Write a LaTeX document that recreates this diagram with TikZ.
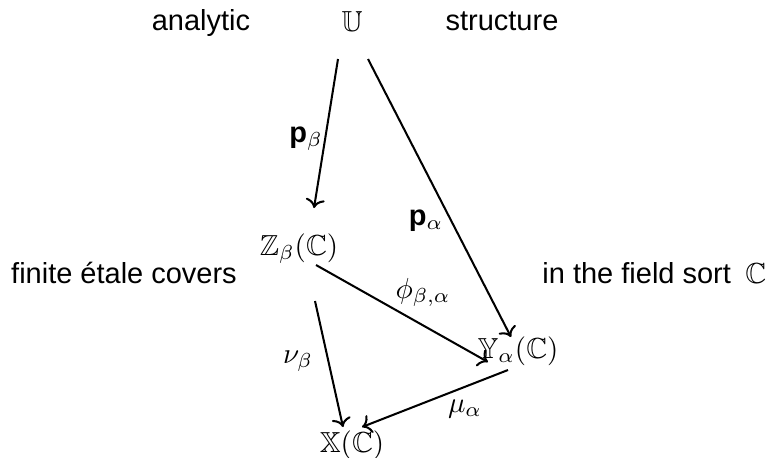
\documentclass[tikz,border=0pt]{standalone}
\usepackage{amsmath,amssymb}
\usepackage{fontspec}
\setmainfont{Liberation Sans}
\usetikzlibrary{arrows.meta}

\begin{document}
\begin{tikzpicture}[x=0.345pt, y=-0.345pt,
    obj/.style={inner sep=0pt, anchor=base},
    mapto/.style={->, line width=0.7pt}]
    \useasboundingbox (0,0) rectangle (770,457);

    % Top row: the analytic structure
    \node[obj] (analytic) at (201,30) {analytic};
    \node[obj] (U) at (352,31) {$\mathbb{U}$};
    \node[obj] (structure) at (502,30) {structure};

    % Middle row: covers and the field sort
    \node[obj] (covers) at (124,283) {finite étale covers};
    \node[obj, anchor=base east] (field) at (767,283) {in the field sort\enspace$\mathbb{C}$};
    \node[obj] (Z) at (299,255) {$\mathbb{Z}_\beta(\mathbb{C})$};
    \node[obj] (Y) at (518,358) {$\mathbb{Y}_\alpha(\mathbb{C})$};

    % Bottom
    \node[obj] (X) at (352,452) {$\mathbb{X}(\mathbb{C})$};

    % Maps
    \draw[mapto] ([shift={(-14,28)}]U.base) -- ([shift={(15,-47)}]Z.base);
    \draw[mapto] ([shift={(16,28)}]U.base) -- ([shift={(-7,-21)}]Y.base);
    \draw[mapto] ([shift={(17,10)}]Z.base) -- ([shift={(-30,4)}]Y.base);
    \draw[mapto] ([shift={(16,46)}]Z.base) -- ([shift={(-9,-25)}]X.base);
    \draw[mapto] ([shift={(-10,12)}]Y.base) -- ([shift={(10,-25)}]X.base);

    % Labels of the maps
    \node[obj] (pb) at (306,142) {\textbf{p}$_\beta$};
    \node[obj] (pa) at (426,225) {\textbf{p}$_\alpha$};
    \node[obj] (phi) at (423,298) {$\phi_{\beta,\alpha}$};
    \node[obj] (nu) at (298,363) {$\nu_\beta$};
    \node[obj] (mu) at (465,412) {$\mu_\alpha$};
\end{tikzpicture}
\end{document}
